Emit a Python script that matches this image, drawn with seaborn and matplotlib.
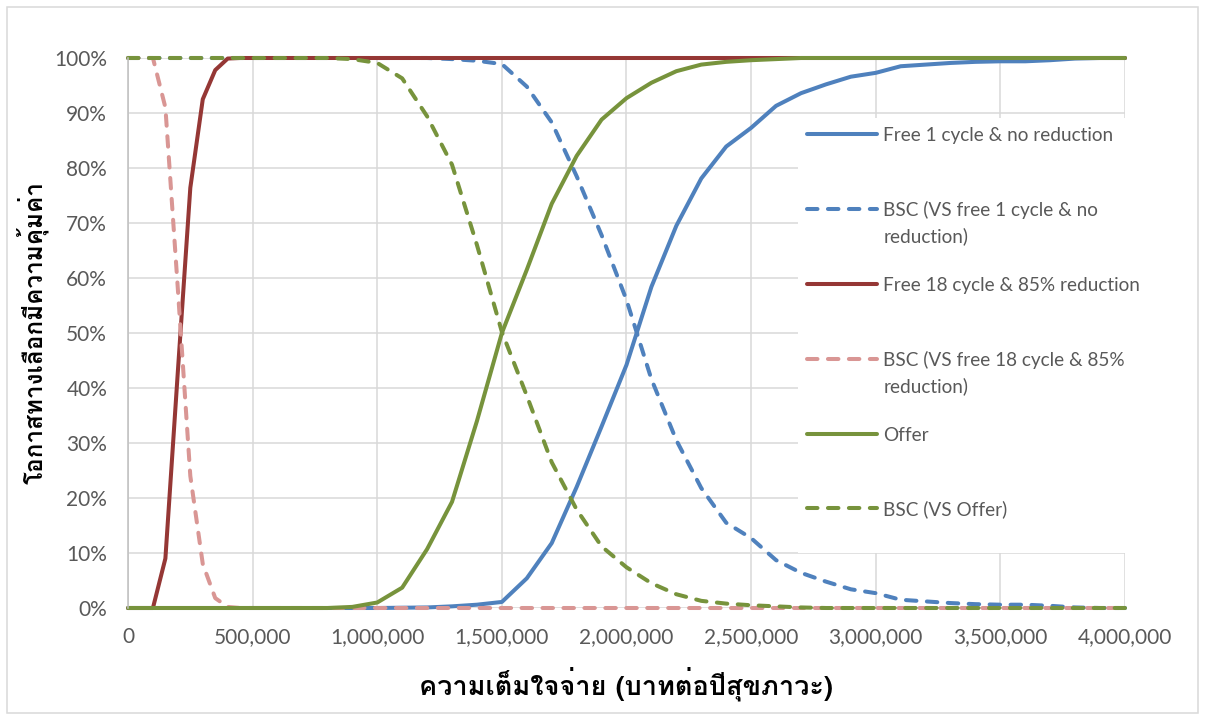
import numpy as np
import pandas as pd
import matplotlib
matplotlib.use("Agg")
import matplotlib.pyplot as plt
import seaborn as sns
from matplotlib.ticker import FuncFormatter, PercentFormatter, MultipleLocator
from matplotlib.legend_handler import HandlerLine2D
from matplotlib.patches import Rectangle

# Willingness to pay (baht per QALY)
wtp = [0, 100000, 200000, 300000, 400000, 500000, 600000, 700000, 800000, 900000,
       1000000, 1100000, 1200000, 1300000, 1400000, 1500000, 1600000, 1700000, 1800000, 1900000,
       2000000, 2100000, 2200000, 2300000, 2400000, 2500000, 2600000, 2700000, 2800000, 2900000,
       3000000, 3100000, 3200000, 3300000, 3400000, 3500000, 3600000, 3700000, 3800000, 3900000,
       4000000]
wtp_fine = [0, 50000, 100000, 150000, 200000, 250000, 300000, 350000, 400000, 450000,
            500000, 600000, 700000, 800000, 900000,
            1000000, 1100000, 1200000, 1300000, 1400000, 1500000, 1600000, 1700000, 1800000, 1900000,
            2000000, 2100000, 2200000, 2300000, 2400000, 2500000, 2600000, 2700000, 2800000, 2900000,
            3000000, 3100000, 3200000, 3300000, 3400000, 3500000, 3600000, 3700000, 3800000, 3900000,
            4000000]

# Probability of being cost-effective (%)
free1 = [0, 0, 0, 0, 0, 0, 0, 0, 0, 0,
         0, 0.05, 0.1, 0.3, 0.6, 1.1, 5.4, 11.8, 22.0, 33.0,
         44.2, 58.4, 69.5, 78.1, 83.9, 87.3, 91.3, 93.6, 95.2, 96.6,
         97.3, 98.5, 98.8, 99.1, 99.3, 99.4, 99.4, 99.6, 99.9, 100,
         100]
bsc_vs_free1 = [100, 100, 100, 100, 100, 100, 100, 100, 100, 100,
                100, 100, 100, 99.8, 99.5, 98.9, 94.8, 88.3, 78.5, 67.8,
                56.0, 41.6, 30.5, 21.8, 15.5, 12.7, 8.7, 6.4, 4.8, 3.4,
                2.7, 1.5, 1.2, 0.9, 0.7, 0.6, 0.6, 0.4, 0.1, 0,
                0]
free18 = [0, 0, 0, 9.0, 43.0, 76.4, 92.5, 97.8, 99.9, 100,
          100, 100, 100, 100, 100,
          100, 100, 100, 100, 100, 100, 100, 100, 100, 100,
          100, 100, 100, 100, 100, 100, 100, 100, 100, 100,
          100, 100, 100, 100, 100, 100, 100, 100, 100, 100,
          100]
bsc_vs_free18 = [100, 100, 100, 91.0, 58.0, 24.0, 8.0, 1.8, 0.2, 0,
                 0, 0, 0, 0, 0,
                 0, 0, 0, 0, 0, 0, 0, 0, 0, 0,
                 0, 0, 0, 0, 0, 0, 0, 0, 0, 0,
                 0, 0, 0, 0, 0, 0, 0, 0, 0, 0,
                 0]
offer = [0, 0, 0, 0, 0, 0, 0, 0, 0, 0.2,
         1.0, 3.7, 10.7, 19.3, 34.0, 50.0, 61.5, 73.5, 82.2, 88.8,
         92.7, 95.5, 97.6, 98.8, 99.3, 99.6, 99.8, 100, 100, 100,
         100, 100, 100, 100, 100, 100, 100, 100, 100, 100,
         100]
bsc_vs_offer = [100, 100, 100, 100, 100, 100, 100, 100, 100, 99.8,
                99.1, 96.3, 89.4, 80.6, 66.0, 50.2, 38.6, 26.5, 17.9, 11.2,
                7.4, 4.5, 2.5, 1.3, 0.8, 0.5, 0.3, 0.1, 0, 0,
                0, 0, 0, 0, 0, 0, 0, 0, 0, 0,
                0]

labels = ["Free 1 cycle & no reduction",
          "BSC (VS free 1 cycle & no\nreduction)",
          "Free 18 cycle & 85% reduction",
          "BSC (VS free 18 cycle & 85%\nreduction)",
          "Offer",
          "BSC (VS Offer)"]

x_ticks = [0, 500000, 1000000, 1500000, 2000000, 2500000, 3000000, 3500000, 4000000]
x_title = "ความเต็มใจจ่าย (บาทต่อปีสุขภาวะ)"
y_title = "โอกาสทางเลือกมีความคุ้มค่า"

BLUE, RED, PINK, GREEN = "#4F81BD", "#953735", "#D99694", "#77933C"
TEXT = "#595959"
GRID = "#D9D9D9"

sns.set_style("white")
plt.rcParams["font.family"] = ["Lato", "DejaVu Sans"]
thai_family = ["Loma", "Noto Sans Thai Looped", "DejaVu Sans"]

fig = plt.figure(figsize=(12.05, 7.2), dpi=100)
ax = fig.add_axes([128 / 1205, 1 - 608 / 720, (1125 - 128) / 1205, (608 - 58) / 720])

dash = (0, (2.6, 2.6))
series = [
    (wtp, free1, BLUE, "-"),
    (wtp, bsc_vs_free1, BLUE, dash),
    (wtp_fine, free18, RED, "-"),
    (wtp_fine, bsc_vs_free18, PINK, dash),
    (wtp, offer, GREEN, "-"),
    (wtp, bsc_vs_offer, GREEN, dash),
]
handles = []
for (xs, ys, col, ls), lab in zip(series, labels):
    df = pd.DataFrame({"wtp": xs, "prob": ys})
    sns.lineplot(data=df, x="wtp", y="prob", ax=ax, color=col, linestyle=ls,
                 linewidth=2.9, dash_capstyle="round", solid_capstyle="round",
                 clip_on=False, estimator=None, label=lab)
    handles.append(ax.get_lines()[-1])
if ax.get_legend():
    ax.get_legend().remove()

ax.set_xlim(0, 4000000)
ax.set_ylim(0, 100)
ax.set_xticks(x_ticks)
ax.xaxis.set_major_formatter(FuncFormatter(lambda v, p: f"{int(v):,}"))
ax.yaxis.set_major_locator(MultipleLocator(10))
ax.yaxis.set_major_formatter(PercentFormatter(100, decimals=0))
ax.grid(True, color=GRID, linewidth=1.1)
ax.set_axisbelow(True)
for s in ["top", "right", "bottom"]:
    ax.spines[s].set_visible(False)
ax.spines["left"].set_color("#BFBFBF")
ax.spines["left"].set_linewidth(1.1)
ax.tick_params(axis="both", length=0, labelsize=15, labelcolor=TEXT)
ax.tick_params(axis="y", pad=15)
ax.tick_params(axis="x", pad=14)

ax.set_xlabel(x_title, fontsize=19.5, fontweight="bold", color="black", family=thai_family, labelpad=14)
ax.set_ylabel(y_title, fontsize=17.5, fontweight="bold", color="black", family=thai_family, labelpad=4)


class FirstLineHandler(HandlerLine2D):
    """Line handle placed level with the first line of a two-line label."""

    def __init__(self, shift, **kw):
        super().__init__(**kw)
        self.shift = shift

    def create_artists(self, legend, orig_handle, xdescent, ydescent, width, height, fontsize, trans):
        arts = super().create_artists(legend, orig_handle, xdescent, ydescent, width, height, fontsize, trans)
        for a in arts:
            a.set_ydata(np.asarray(a.get_ydata(), dtype=float) + self.shift)
        return arts


leg_labels = [l if "\n" in l else l + "\n" for l in labels]
handler = FirstLineHandler(shift=10.4)
leg = fig.legend(handles, leg_labels, loc="upper left", bbox_to_anchor=(788 / 1205, 1 - 108 / 720),
                 fontsize=13.7, labelcolor=TEXT, handlelength=3.7, handletextpad=0.3,
                 labelspacing=1.66, borderpad=0.5, frameon=True, fancybox=False,
                 facecolor="white", edgecolor="none", framealpha=1,
                 handler_map={h: handler for h in handles})
for t in leg.get_texts():
    t.set_linespacing(1.58)

# chart-area border
fig.patches.append(Rectangle((7 / 1205, 7 / 720), 1191 / 1205, 706 / 720, transform=fig.transFigure,
                             fill=False, edgecolor=GRID, linewidth=1.1))

fig.savefig("out.png", dpi=100)
